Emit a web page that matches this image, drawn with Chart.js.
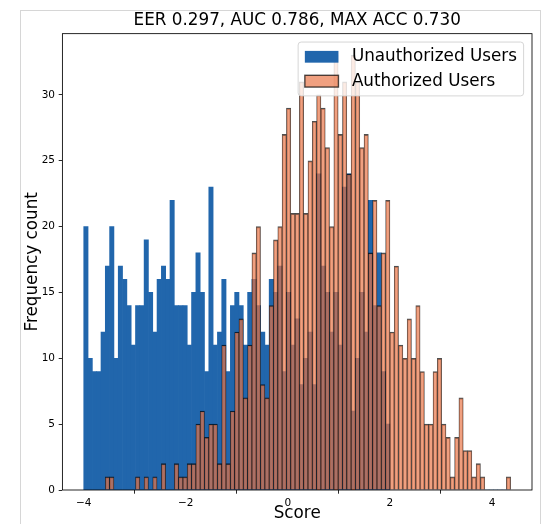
<!DOCTYPE html>
<html>
<head>
<meta charset="utf-8">
<title>Score histogram</title>
<script src="https://cdn.jsdelivr.net/npm/chart.js@4.4.0/dist/chart.umd.min.js"></script>
<style>
    html, body { margin: 0; padding: 0; background: #fff; }
    #wrap { position: relative; width: 542px; height: 524px; overflow: hidden; }
    #frame { position: absolute; left: 20px; top: 10px; width: 521px; height: 530px; border: 1px solid #d6d6d6; box-sizing: border-box; }
    #scoreChart { position: absolute; left: 0; top: 0; }
</style>
</head>
<body>
<div id="wrap">
    <div id="frame"></div>
    <canvas id="scoreChart" width="542" height="524"></canvas>
</div>
<script>
// ========== SCORE HISTOGRAM ==========
const chartTitle = 'EER 0.297, AUC 0.786, MAX ACC 0.730';
const seriesLabels = ['Unauthorized Users', 'Authorized Users'];

// shared bins: 99 bins starting at -4.0
const binStart = -4.0;
const binWidth = 0.0845;

const unauthorizedCounts = [
    20, 10, 9, 9, 12, 17, 20, 10, 17, 16,
    14, 11, 14, 14, 19, 15, 12, 16, 17, 16,
    22, 14, 14, 14, 11, 15, 18, 15, 9, 23,
    11, 12, 16, 9, 14, 15, 14, 11, 15, 16,
    14, 12, 11, 16, 15, 17, 9, 15, 11, 13,
    8, 10, 12, 8, 24, 17, 15, 12, 15, 11,
    23, 24, 6, 10, 15, 12, 22, 14, 18, 9,
    5, 0, 0, 0, 0, 0, 0, 0, 0, 0,
    0, 0, 0, 0, 0, 0, 0, 0, 0, 0,
    0, 0, 0, 0, 0, 0, 0, 0, 0
];

const authorizedCounts = [
    0, 0, 0, 0, 0, 1, 1, 0, 0, 0,
    0, 0, 1, 0, 1, 0, 1, 0, 2, 0,
    0, 2, 1, 1, 2, 2, 5, 6, 4, 5,
    5, 2, 11, 2, 6, 12, 13, 7, 11, 18,
    20, 8, 7, 14, 19, 20, 27, 29, 21, 21,
    31, 21, 25, 28, 30, 29, 26, 20, 33, 27,
    31, 24, 33, 31, 26, 27, 18, 22, 14, 18,
    22, 12, 17, 11, 10, 13, 10, 14, 9, 5,
    5, 9, 10, 5, 4, 1, 4, 7, 3, 3,
    1, 2, 1, 0, 0, 0, 0, 0, 1
];

const xTickValues = [-4, -2, 0, 2, 4];
const yTickValues = [0, 5, 10, 15, 20, 25, 30];

const FONT = 'DejaVu Sans';
const BIG = 16.8;
const blueFill = '#2166ac';
const salmonFill = 'rgba(233,117,71,0.69)';
const salmonEdge = 'rgba(0,0,0,0.69)';

Chart.defaults.font.family = FONT;
Chart.defaults.color = '#000';

function toPoints(counts) {
    return counts.map((c, i) => ({ x: binStart + binWidth * (i + 0.5), y: c }));
}

// axis limits with 5% margins like the usual autoscale
const binEnd = binStart + binWidth * unauthorizedCounts.length;
const xMargin = 0.05 * (binEnd - binStart);
const yTop = 1.05 * Math.max(...unauthorizedCounts, ...authorizedCounts);

// spines + legend drawn inside the plot box
const frameAndLegend = {
    id: 'frameAndLegend',
    afterDraw(chart) {
        const { ctx, chartArea } = chart;
        ctx.save();

        ctx.strokeStyle = '#000';
        ctx.lineWidth = 0.85;
        ctx.strokeRect(chartArea.left, chartArea.top, chartArea.right - chartArea.left, chartArea.bottom - chartArea.top);

        ctx.font = BIG + 'px "' + FONT + '"';
        const textW = Math.max(...seriesLabels.map(t => ctx.measureText(t).width));
        const pad = 0.4 * BIG;
        const handleW = 2 * BIG;
        const handleH = 0.7 * BIG;
        const gap = 0.8 * BIG;
        const rowH = 16;
        const spacing = 0.5 * BIG;
        const w = pad * 2 + handleW + gap + textW;
        const h = pad * 2 + rowH * 2 + spacing;
        const right = chartArea.right - 0.5 * BIG;
        const top = chartArea.top + 0.5 * BIG;
        const left = right - w;

        ctx.beginPath();
        ctx.roundRect(left, top, w, h, 3);
        ctx.fillStyle = 'rgba(255,255,255,0.8)';
        ctx.fill();
        ctx.strokeStyle = 'rgba(204,204,204,0.8)';
        ctx.lineWidth = 1;
        ctx.stroke();

        chart.data.datasets.forEach((ds, i) => {
            const cy = top + pad + rowH / 2 + i * (rowH + spacing);
            const hx = left + pad;
            ctx.fillStyle = ds.backgroundColor;
            ctx.fillRect(hx, cy - handleH / 2, handleW, handleH);
            if (ds.legendEdge) {
                ctx.strokeStyle = ds.legendEdge;
                ctx.lineWidth = 1.4;
                ctx.strokeRect(hx, cy - handleH / 2, handleW, handleH);
            }
            ctx.fillStyle = '#000';
            ctx.textBaseline = 'middle';
            ctx.textAlign = 'left';
            ctx.fillText(ds.label, hx + handleW + gap, cy);
        });
        ctx.restore();
    }
};

const ctx = document.getElementById('scoreChart');
new Chart(ctx, {
    type: 'bar',
    data: {
        datasets: [
            {
                label: seriesLabels[0],
                data: toPoints(unauthorizedCounts),
                backgroundColor: blueFill,
                borderWidth: 0,
                grouped: false,
                barPercentage: 1,
                categoryPercentage: 1,
                order: 2
            },
            {
                label: seriesLabels[1],
                data: toPoints(authorizedCounts),
                backgroundColor: salmonFill,
                borderColor: salmonEdge,
                borderWidth: { left: 0.7, right: 0.7, top: 1.3, bottom: 0 },
                borderSkipped: false,
                grouped: false,
                barPercentage: 1,
                categoryPercentage: 1,
                legendEdge: salmonEdge,
                order: 1
            }
        ]
    },
    options: {
        responsive: false,
        animation: false,
        layout: { padding: { left: 20, right: 10, top: 0, bottom: 0 } },
        plugins: {
            legend: { display: false },
            tooltip: { enabled: false },
            title: {
                display: true,
                fullSize: false,
                text: chartTitle,
                color: '#000',
                font: { family: FONT, size: BIG, weight: 'normal' },
                padding: { top: 10.5, bottom: 3 }
            }
        },
        scales: {
            x: {
                type: 'linear',
                offset: false,
                min: binStart - xMargin,
                max: binEnd + xMargin,
                afterBuildTicks: s => { s.ticks = xTickValues.map(v => ({ value: v })); },
                afterFit: s => { s.height = 34; },
                grid: { display: true, drawOnChartArea: false, drawTicks: true, tickLength: 3.7, color: '#000', lineWidth: 0.85 },
                border: { display: false },
                ticks: {
                    padding: 3.2,
                    font: { size: 10.5 },
                    color: '#000',
                    maxRotation: 0,
                    callback: v => String(v).replace('-', '\u2212')
                },
                title: { display: true, text: 'Score', color: '#000', font: { size: BIG }, padding: { top: 0, bottom: 0 } }
            },
            y: {
                min: 0,
                max: yTop,
                afterBuildTicks: s => { s.ticks = yTickValues.map(v => ({ value: v })); },
                afterFit: s => { s.width = 42.4; },
                grid: { display: true, drawOnChartArea: false, drawTicks: true, tickLength: 3.7, color: '#000', lineWidth: 0.85 },
                border: { display: false },
                ticks: { padding: 3.7, font: { size: 10.5 }, color: '#000' },
                title: { display: true, text: 'Frequency count', color: '#000', font: { size: BIG }, padding: { top: 3, bottom: 0 } }
            }
        }
    },
    plugins: [frameAndLegend]
});
</script>
</body>
</html>
